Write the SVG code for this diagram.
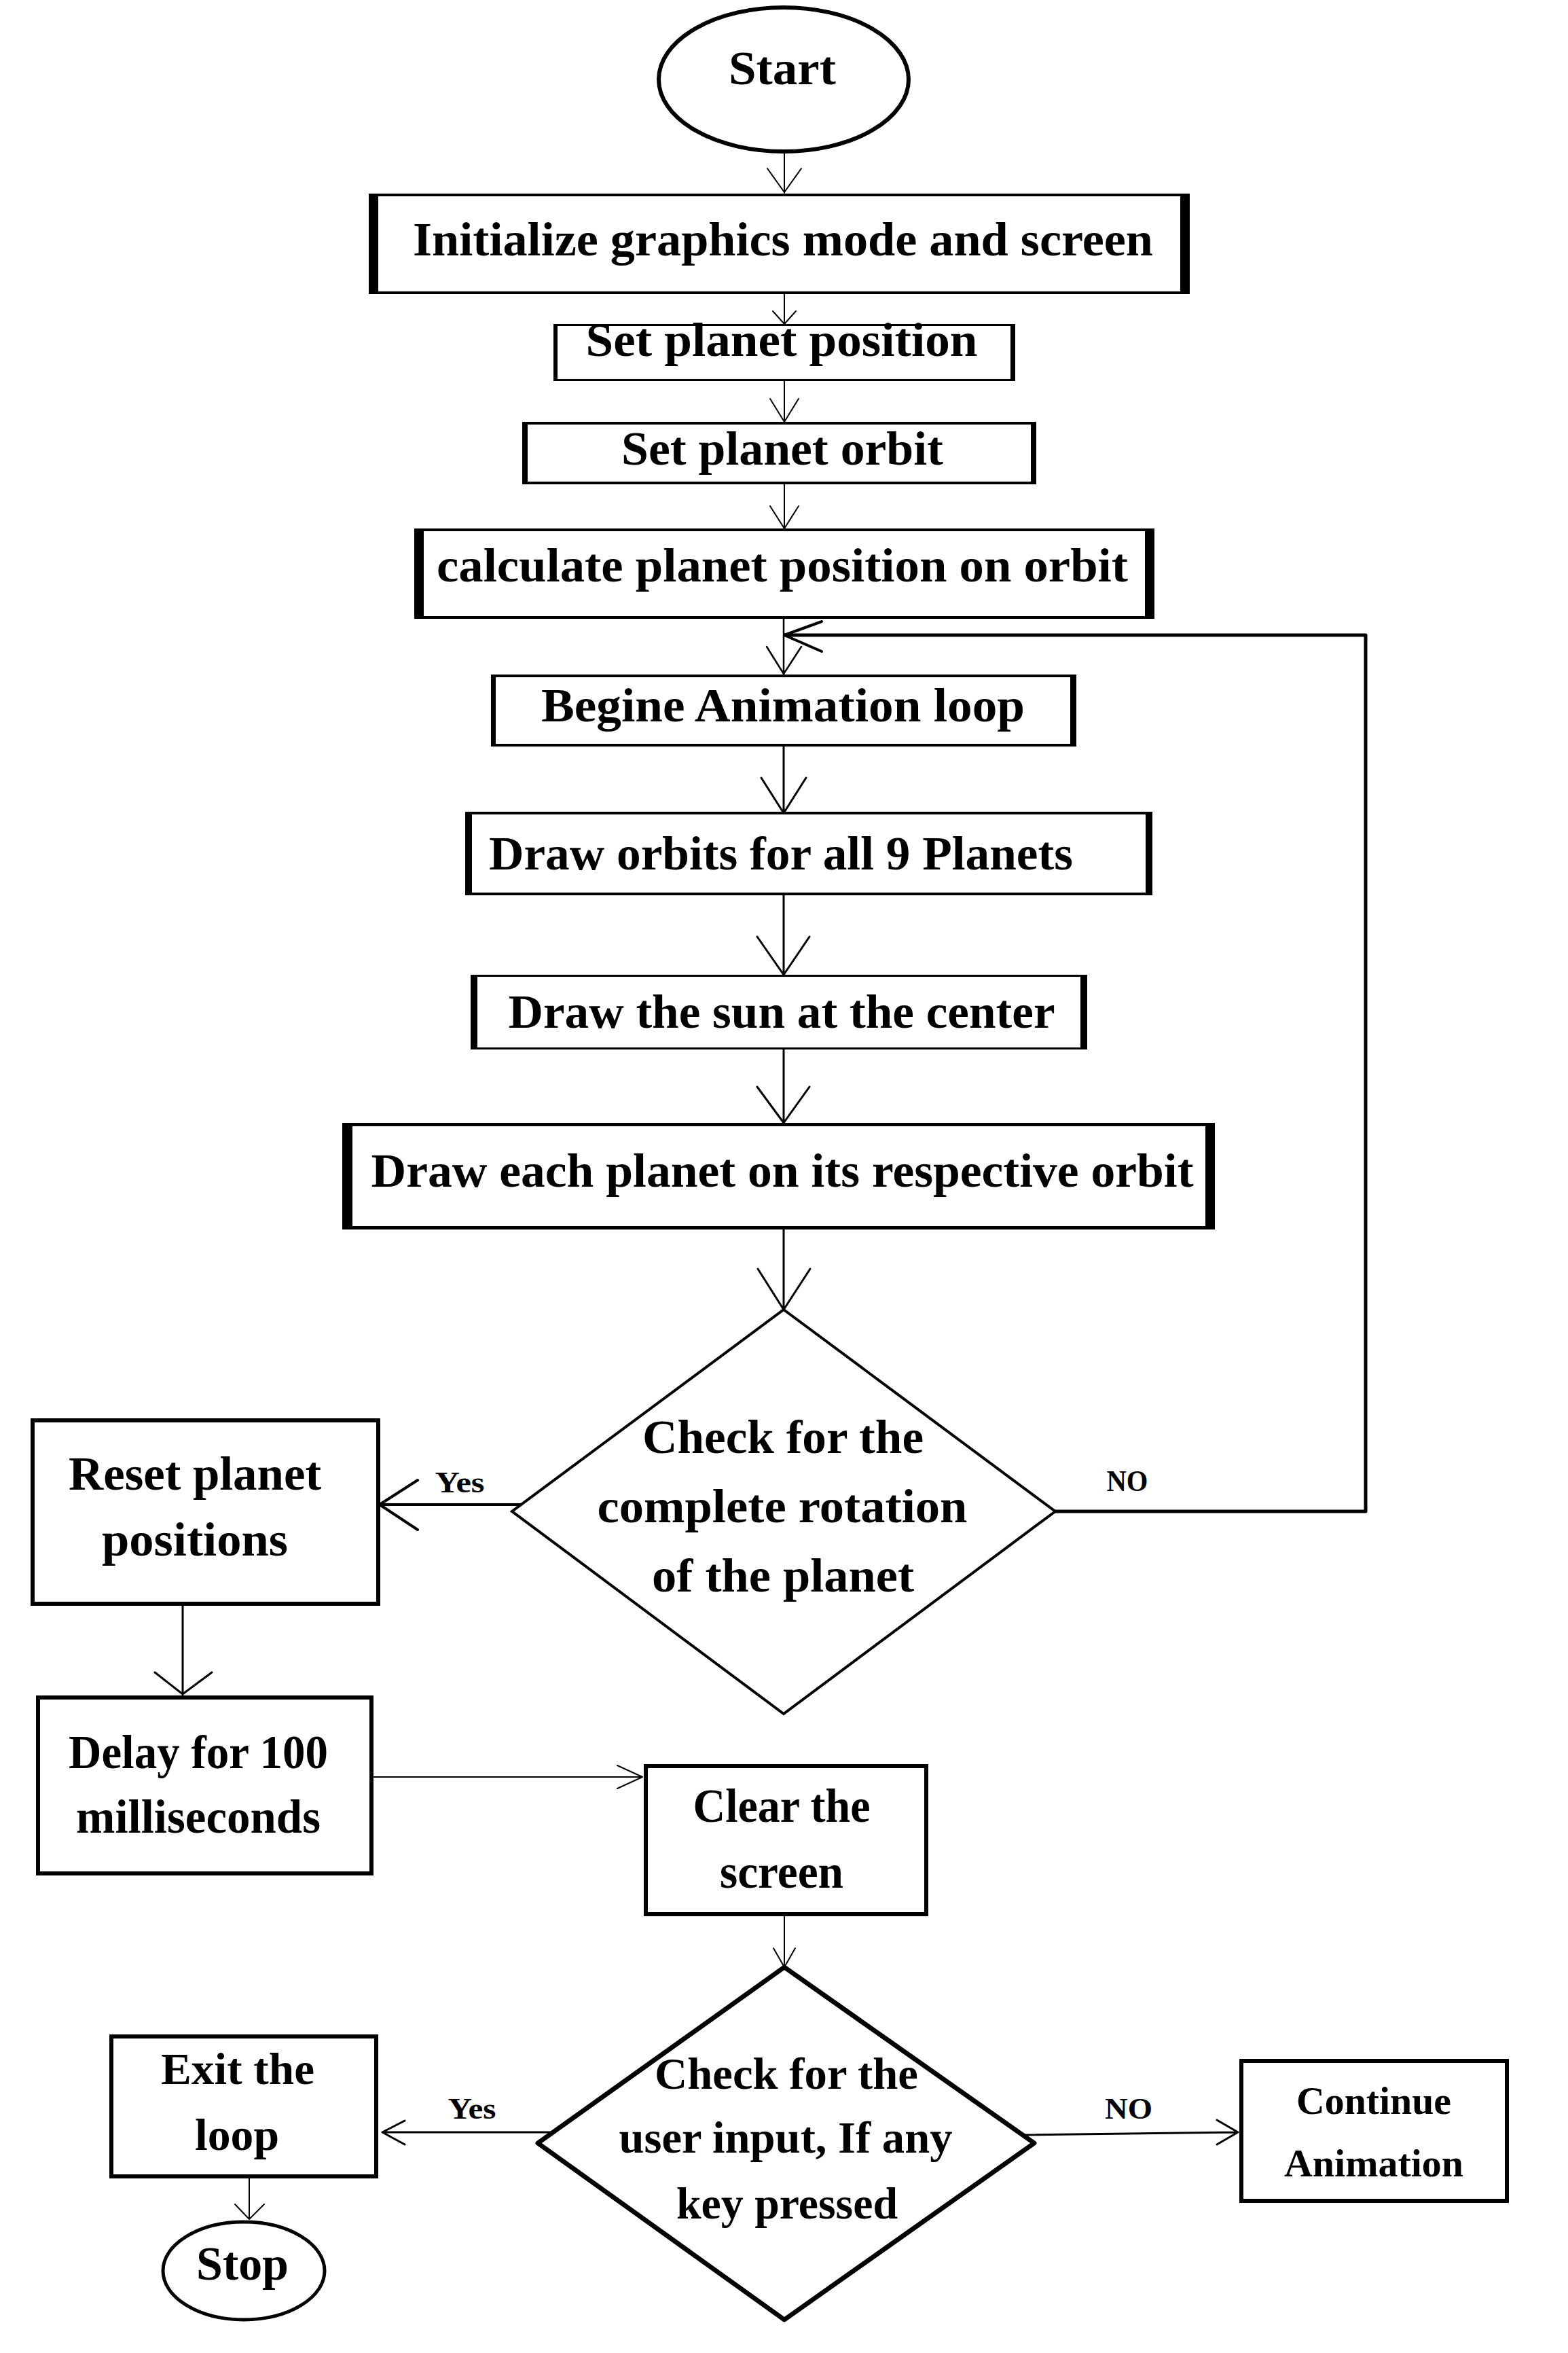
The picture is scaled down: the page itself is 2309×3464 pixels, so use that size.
<svg xmlns="http://www.w3.org/2000/svg" width="2309" height="3464" viewBox="0 0 2309 3464">
<style>
.bg{fill:#fff}
.box{fill:#fff;stroke:#000}
.bar{fill:#000}
.shape{fill:#fff;stroke:#000}
.t{font-family:"Liberation Serif","Times New Roman",serif;font-weight:bold;text-anchor:middle;fill:#000}
.m{font-size:70px}
.s{font-size:44px}
.c{fill:none;stroke:#000;stroke-linecap:round;stroke-linejoin:round}
</style>
<rect class="bg" x="0" y="0" width="2309" height="3464"/>

<g id="connectors">
  <path class="c" stroke-width="2" d="M1155,224 L1155,284 M1130,248 L1155,283 L1180,248"/>
  <path class="c" stroke-width="2" d="M1155,433 L1155,477 M1138,458 L1155,477 L1172,458"/>
  <path class="c" stroke-width="2" d="M1155,561 L1155,621 M1134,587 L1155,621 L1176,587"/>
  <path class="c" stroke-width="2" d="M1155,713 L1155,778 M1134,745 L1155,778 L1176,745"/>
  <path class="c" stroke-width="2.5" d="M1154,911 L1154,993 M1129,952 L1154,992 L1180,952"/>
  <path class="c" stroke-width="5" d="M1554,2225 L2011,2225 L2011,935 L1156,935"/>
  <path class="c" stroke-width="4" d="M1210,915 L1155,935 L1210,959"/>
  <path class="c" stroke-width="3" d="M1154,1099 L1154,1197 M1121,1145 L1154,1197 L1187,1145"/>
  <path class="c" stroke-width="3" d="M1154,1318 L1154,1435 M1115,1379 L1154,1435 L1192,1379"/>
  <path class="c" stroke-width="3" d="M1154,1545 L1154,1653 M1115,1600 L1154,1653 L1192,1600"/>
  <path class="c" stroke-width="3" d="M1154,1810 L1154,1928 M1116,1868 L1154,1928 L1193,1868"/>
  <path class="c" stroke-width="4" d="M768,2215 L560,2215 M615,2179 L559,2215 L615,2252"/>
  <path class="c" stroke-width="3" d="M269,2364 L269,2495 M228,2462 L269,2494 L312,2462"/>
  <path class="c" stroke-width="2" d="M550,2616 L946,2616 M909,2599 L946,2616 L909,2633"/>
  <path class="c" stroke-width="2" d="M1155,2821 L1155,2896 M1139,2868 L1155,2896 L1171,2868"/>
  <path class="c" stroke-width="3" d="M816,3139 L563,3139 M596,3122 L563,3139 L596,3157"/>
  <path class="c" stroke-width="3" d="M1508,3143 L1823,3139 M1792,3121 L1823,3139 L1792,3157"/>
  <path class="c" stroke-width="2" d="M367,3207 L367,3267 M346,3245 L367,3267 L389,3245"/>
  <text class="t s" x="677" y="2197" textLength="73" lengthAdjust="spacingAndGlyphs">Yes</text>
  <text class="t s" x="1660" y="2195" textLength="61" lengthAdjust="spacingAndGlyphs">NO</text>
  <text class="t s" x="695" y="3119" textLength="71" lengthAdjust="spacingAndGlyphs">Yes</text>
  <text class="t s" x="1662" y="3119" textLength="70" lengthAdjust="spacingAndGlyphs">NO</text>
</g>

<g id="start">
  <ellipse class="shape" cx="1154" cy="117" rx="184" ry="106" stroke-width="6"/>
  <text class="t m" x="1152" y="124" textLength="158" lengthAdjust="spacingAndGlyphs">Start</text>
</g>

<g id="init">
  <rect class="box" x="545" y="287" width="1205" height="144" stroke-width="4"/>
  <rect class="bar" x="543" y="285" width="14" height="148"/>
  <rect class="bar" x="1738" y="285" width="14" height="148"/>
  <text class="t m" x="1153" y="376" textLength="1090" lengthAdjust="spacingAndGlyphs">Initialize graphics mode and screen</text>
</g>

<g id="set-position">
  <rect class="box" x="816.5" y="478.5" width="677" height="81" stroke-width="3"/>
  <rect class="bar" x="815" y="477" width="6" height="84"/>
  <rect class="bar" x="1488" y="477" width="7" height="84"/>
  <text class="t m" x="1151" y="524" textLength="577" lengthAdjust="spacingAndGlyphs">Set planet position</text>
</g>

<g id="set-orbit">
  <rect class="box" x="771" y="623" width="753" height="88" stroke-width="4"/>
  <rect class="bar" x="769" y="621" width="8" height="92"/>
  <rect class="bar" x="1518" y="621" width="8" height="92"/>
  <text class="t m" x="1152" y="684" textLength="474" lengthAdjust="spacingAndGlyphs">Set planet orbit</text>
</g>

<g id="calculate">
  <rect class="box" x="612" y="780" width="1086" height="129" stroke-width="4"/>
  <rect class="bar" x="610" y="778" width="14" height="133"/>
  <rect class="bar" x="1686" y="778" width="14" height="133"/>
  <text class="t m" x="1152" y="856" textLength="1018" lengthAdjust="spacingAndGlyphs">calculate planet position on orbit</text>
</g>

<g id="begin-loop">
  <rect class="box" x="725" y="995" width="858" height="102" stroke-width="4"/>
  <rect class="bar" x="723" y="993" width="7" height="106"/>
  <rect class="bar" x="1576" y="993" width="9" height="106"/>
  <text class="t m" x="1153" y="1062" textLength="712" lengthAdjust="spacingAndGlyphs">Begine Animation loop</text>
</g>

<g id="draw-orbits">
  <rect class="box" x="687" y="1197" width="1008" height="119" stroke-width="4"/>
  <rect class="bar" x="685" y="1195" width="10" height="123"/>
  <rect class="bar" x="1687" y="1195" width="10" height="123"/>
  <text class="t m" x="1150" y="1280" textLength="860" lengthAdjust="spacingAndGlyphs">Draw orbits for all 9 Planets</text>
</g>

<g id="draw-sun">
  <rect class="box" x="694.5" y="1436.5" width="905" height="107" stroke-width="3"/>
  <rect class="bar" x="693" y="1435" width="10" height="110"/>
  <rect class="bar" x="1591" y="1435" width="10" height="110"/>
  <text class="t m" x="1151" y="1513" textLength="805" lengthAdjust="spacingAndGlyphs">Draw the sun at the center</text>
</g>

<g id="draw-planets">
  <rect class="box" x="506.5" y="1655.5" width="1280" height="152" stroke-width="5"/>
  <rect class="bar" x="504" y="1653" width="15" height="157"/>
  <rect class="bar" x="1775" y="1653" width="14" height="157"/>
  <text class="t m" x="1152" y="1747" textLength="1211" lengthAdjust="spacingAndGlyphs">Draw each planet on its respective orbit</text>
</g>

<g id="check-rotation">
  <polygon class="shape" points="1154,1928 1554,2225 1154,2523 754,2225" stroke-width="4"/>
  <text class="t m" x="1153" y="2139" textLength="414" lengthAdjust="spacingAndGlyphs">Check for the</text>
  <text class="t m" x="1152" y="2241" textLength="545" lengthAdjust="spacingAndGlyphs">complete rotation</text>
  <text class="t m" x="1153" y="2343" textLength="386" lengthAdjust="spacingAndGlyphs">of the planet</text>
</g>

<g id="reset">
  <rect class="box" x="48" y="2091" width="509" height="270" stroke-width="6"/>
  <text class="t m" x="287" y="2193" textLength="372" lengthAdjust="spacingAndGlyphs">Reset planet</text>
  <text class="t m" x="287" y="2290" textLength="274" lengthAdjust="spacingAndGlyphs">positions</text>
</g>

<g id="delay">
  <rect class="box" x="56" y="2499" width="491" height="259" stroke-width="6"/>
  <text class="t m" x="292" y="2603" textLength="382" lengthAdjust="spacingAndGlyphs">Delay for 100</text>
  <text class="t m" x="292" y="2698" textLength="360" lengthAdjust="spacingAndGlyphs">milliseconds</text>
</g>

<g id="clear">
  <rect class="box" x="951" y="2600" width="413" height="218" stroke-width="6"/>
  <text class="t m" x="1151" y="2682" textLength="261" lengthAdjust="spacingAndGlyphs">Clear the</text>
  <text class="t m" x="1151" y="2779" textLength="182" lengthAdjust="spacingAndGlyphs">screen</text>
</g>

<g id="check-input">
  <polygon class="shape" points="1155,2896 1523,3155 1155,3415 792,3155" stroke-width="7" stroke-linejoin="round"/>
  <text class="t" font-size="66" x="1158" y="3075" textLength="388" lengthAdjust="spacingAndGlyphs">Check for the</text>
  <text class="t" font-size="66" x="1157" y="3169" textLength="491" lengthAdjust="spacingAndGlyphs">user input, If any</text>
  <text class="t" font-size="66" x="1159" y="3266" textLength="326" lengthAdjust="spacingAndGlyphs">key pressed</text>
</g>

<g id="exit">
  <rect class="box" x="164" y="2998" width="390" height="206" stroke-width="6"/>
  <text class="t" font-size="66" x="350" y="3068" textLength="226" lengthAdjust="spacingAndGlyphs">Exit the</text>
  <text class="t" font-size="66" x="349" y="3165" textLength="124" lengthAdjust="spacingAndGlyphs">loop</text>
</g>

<g id="stop">
  <ellipse class="shape" cx="359" cy="3343" rx="119" ry="72" stroke-width="5"/>
  <text class="t m" x="357" y="3356" textLength="136" lengthAdjust="spacingAndGlyphs">Stop</text>
</g>

<g id="continue">
  <rect class="box" x="1828" y="3034" width="391" height="206" stroke-width="6"/>
  <text class="t" font-size="58" x="2023" y="3112" textLength="228" lengthAdjust="spacingAndGlyphs">Continue</text>
  <text class="t" font-size="58" x="2023" y="3204" textLength="264" lengthAdjust="spacingAndGlyphs">Animation</text>
</g>
</svg>
